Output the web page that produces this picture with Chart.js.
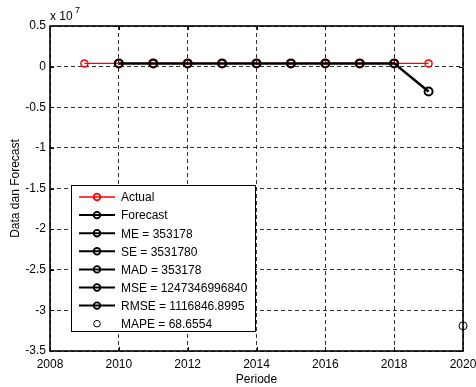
<!DOCTYPE html>
<html>
<head>
<meta charset="utf-8">
<script src="https://cdn.jsdelivr.net/npm/chart.js@4/dist/chart.umd.min.js"></script>
<style>
  html, body { margin: 0; padding: 0; background: #fff; }
  #wrap { width: 476px; height: 387px; }
</style>
</head>
<body>
<div id="wrap"><canvas id="c" width="476" height="387"></canvas></div>
<script>
// Yearly series
const years = [2009, 2010, 2011, 2012, 2013, 2014, 2015, 2016, 2017, 2018, 2019];
const actual = [400000, 400000, 400000, 400000, 400000, 400000, 400000, 400000, 400000, 400000, 400000];
const forecastYears = [2010, 2011, 2012, 2013, 2014, 2015, 2016, 2017, 2018, 2019];
const forecast = [400000, 400000, 400000, 400000, 400000, 400000, 400000, 400000, 400000, -3070000];
// Lone MAPE marker
const mapePoint = { x: 2020, y: -31900000 };
// Error measure legend labels
const errorLabels = ['ME = 353178', 'SE = 3531780', 'MAD = 353178', 'MSE = 1247346996840', 'RMSE = 1116846.8995'];
const mapeLabel = 'MAPE = 68.6554';
// Axis ticks
const xTicks = [2008, 2010, 2012, 2014, 2016, 2018, 2020];
const yTicks = [0.5, 0, -0.5, -1, -1.5, -2, -2.5, -3, -3.5];
const yScaleFactor = 1e7;

const FONT = '"Liberation Sans", Arial, Helvetica, sans-serif';

const pairs = (xs, ys) => xs.map((x, i) => ({ x, y: ys[i] }));

const datasets = [
  { label: 'Actual', data: pairs(years, actual), borderColor: '#ff0000', backgroundColor: '#ff0000',
    borderWidth: 1.2, pointRadius: 3.5, pointBorderWidth: 1.5, pointBackgroundColor: 'rgba(0,0,0,0)',
    pointBorderColor: '#ff0000', order: 2 },
  { label: 'Forecast', data: pairs(forecastYears, forecast), borderColor: '#000', backgroundColor: '#000',
    borderWidth: 2.5, pointRadius: 4, pointBorderWidth: 2, pointBackgroundColor: 'rgba(0,0,0,0)',
    pointBorderColor: '#000', order: 1 }
];
errorLabels.forEach(l => datasets.push({ label: l, data: [], borderColor: '#000', borderWidth: 2,
  pointRadius: 4, pointBorderWidth: 2, pointBackgroundColor: 'rgba(0,0,0,0)' }));
datasets.push({ label: mapeLabel, data: [mapePoint], showLine: false, borderColor: '#000',
  pointRadius: 4, pointBorderWidth: 1, pointBackgroundColor: 'rgba(0,0,0,0)', clip: false });

// Box, exponent label and inset legend, drawn on top of the plot
const decorations = {
  id: 'decorations',
  afterDatasetsDraw(chart) {
    const { ctx, chartArea: a } = chart;
    ctx.save();
    // inward tick marks on all four sides
    ctx.strokeStyle = '#000';
    ctx.lineWidth = 1;
    const xs = chart.scales.x, ys = chart.scales.y;
    xTicks.forEach(t => {
      const px = Math.round(xs.getPixelForValue(t)) + 0.5;
      ctx.beginPath();
      ctx.moveTo(px, a.bottom); ctx.lineTo(px, a.bottom - 4);
      ctx.moveTo(px, a.top); ctx.lineTo(px, a.top + 4);
      ctx.stroke();
    });
    yTicks.forEach(t => {
      const py = Math.round(ys.getPixelForValue(t * yScaleFactor)) + 0.5;
      ctx.beginPath();
      ctx.moveTo(a.left, py); ctx.lineTo(a.left + 4, py);
      ctx.moveTo(a.right, py); ctx.lineTo(a.right - 4, py);
      ctx.stroke();
    });
    // axes box
    ctx.lineWidth = 1.6;
    ctx.strokeRect(a.left, a.top, a.right - a.left, a.bottom - a.top);

    // exponent label
    ctx.fillStyle = '#000';
    ctx.textBaseline = 'alphabetic';
    ctx.textAlign = 'left';
    ctx.font = '12px ' + FONT;
    ctx.fillText('x 10', a.left, a.top - 6);
    ctx.font = '9px ' + FONT;
    ctx.fillText('7', a.left + 25, a.top - 13);

    // legend
    const lx = 71, ly = 185, lw = 184, lh = 146;
    ctx.fillStyle = '#fff';
    ctx.fillRect(lx, ly, lw, lh);
    ctx.strokeStyle = '#000';
    ctx.lineWidth = 1;
    ctx.strokeRect(lx + 0.5, ly + 0.5, lw, lh);
    ctx.font = '12px ' + FONT;
    ctx.textBaseline = 'middle';
    chart.data.datasets.forEach((ds, i) => {
      const y = ly + 12 + i * 18.1;
      const col = ds.borderColor;
      ctx.strokeStyle = col;
      if (ds.showLine !== false) {
        ctx.lineWidth = i === 0 ? 1.5 : 2;
        ctx.beginPath();
        ctx.moveTo(79, y); ctx.lineTo(115, y);
        ctx.stroke();
      }
      ctx.lineWidth = ds.showLine === false ? 1 : 1.8;
      ctx.beginPath();
      ctx.arc(97, y, 3.3, 0, Math.PI * 2);
      ctx.stroke();
      ctx.fillStyle = '#000';
      ctx.fillText(ds.label, 121, y + 1);
    });
    ctx.restore();
  }
};

new Chart(document.getElementById('c'), {
  type: 'line',
  data: { datasets },
  options: {
    responsive: false,
    animation: false,
    devicePixelRatio: 1,
    layout: { padding: { top: 26, right: 13, left: 0, bottom: 0 } },
    plugins: { legend: { display: false }, tooltip: { enabled: false } },
    elements: { line: { tension: 0 } },
    scales: {
      x: {
        type: 'linear', min: 2008, max: 2020,
        afterBuildTicks: s => { s.ticks = xTicks.map(v => ({ value: v })); },
        afterFit: s => { s.height = 36; s.paddingLeft = 0; s.paddingRight = 0; },
        ticks: { color: '#000', font: { family: FONT, size: 12 }, padding: 6, maxRotation: 0,
          callback: v => String(v) },
        grid: { color: '#000', lineWidth: 0.8, drawTicks: false, tickLength: 0 },
        border: { display: false, dash: [4, 3] },
        title: { display: true, text: 'Periode', color: '#000', font: { family: FONT, size: 12 }, padding: { top: 0, bottom: 0 } }
      },
      y: {
        type: 'linear', min: -3.5e7, max: 0.5e7,
        afterBuildTicks: s => { s.ticks = yTicks.map(v => ({ value: v * yScaleFactor })); },
        afterFit: s => { s.width = 50; s.paddingTop = 0; s.paddingBottom = 0; },
        ticks: { color: '#000', font: { family: FONT, size: 12 }, padding: 4,
          callback: v => String(Math.round(v / 1e6) / 10) },
        grid: { color: '#000', lineWidth: 0.8, drawTicks: false, tickLength: 0 },
        border: { display: false, dash: [4, 3] },
        title: { display: true, text: 'Data dan Forecast', color: '#000', font: { family: FONT, size: 12 }, padding: { top: 8, bottom: 0 } }
      }
    }
  },
  plugins: [decorations]
});
</script>
</body>
</html>
